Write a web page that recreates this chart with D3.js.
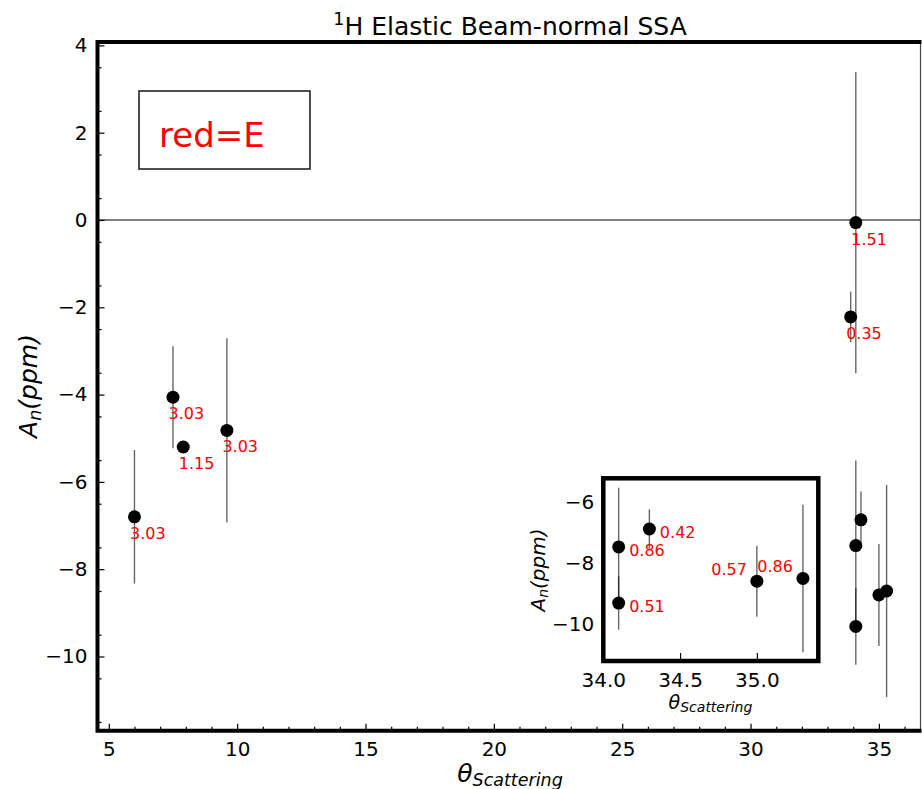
<!DOCTYPE html>
<html lang="en">
<head>
  <meta charset="UTF-8">
  <script src="https://cdn.jsdelivr.net/npm/d3@7"></script>
  <title>1H Elastic Beam-normal SSA</title>
  <style>
    body { margin: 0; background: #fff; }
    svg { display: block; font-family: "DejaVu Sans", sans-serif; }
  </style>
</head>
<body>
<div id="chart"></div>
<script>
  // Data
  var theta   = [6.0, 7.5, 7.9, 9.6, 34.1, 33.9, 34.1, 34.1, 34.3, 35.0, 35.3];
  var asym    = [-6.80, -4.06, -5.20, -4.82, -0.06, -2.22, -7.46, -9.31, -6.87, -8.59, -8.50];
  var asymErr = [1.53, 1.17, 0.0, 2.11, 3.45, 0.58, 1.95, 0.88, 0.65, 1.17, 2.43];
  var energy  = ["3.03", "3.03", "1.15", "3.03", "1.51", "0.35", "0.86", "0.51", "0.42", "0.57", "0.86"];

  var xTicks = [5, 10, 15, 20, 25, 30, 35];
  var yTicks = [-10, -8, -6, -4, -2, 0, 2, 4];
  var insetXTicks = [34.0, 34.5, 35.0];
  var insetYTicks = [-10, -8, -6];

  var data = theta.map(function(t, i) {
    return {x: t, y: asym[i], e: asymErr[i], label: energy[i]};
  });

  var width = 922, height = 789;

  var svg = d3.select("#chart").append("svg")
      .attr("width", width)
      .attr("height", height);

  // Main scales
  var x = d3.scaleLinear().domain([4.56, 36.62]).range([97.5, 920.5]);
  var y = d3.scaleLinear().domain([-11.7, 4.08]).range([730.7, 41.9]);

  // Inset scales
  var xi = d3.scaleLinear().domain([34.0, 35.4]).range([603.3, 818.3]);
  var yi = d3.scaleLinear().domain([-11.22, -5.2]).range([661, 478.3]);

  function inInset(d) {
    return d.x >= xi.domain()[0] && d.x <= xi.domain()[1] &&
           d.y >= yi.domain()[0] && d.y <= yi.domain()[1];
  }

  function styleAxis(g, size) {
    g.attr("font-family", null).attr("font-size", null);
    g.select(".domain").remove();
    g.selectAll("line").attr("stroke", "#000").attr("stroke-width", 1.2);
    g.selectAll("text").attr("font-size", size).attr("fill", "#000");
  }

  // Zero line
  svg.append("line")
    .attr("x1", x.range()[0]).attr("x2", x.range()[1])
    .attr("y1", y(0)).attr("y2", y(0))
    .attr("stroke", "#000").attr("stroke-width", 1.2);

  // Axes (ticks inward)
  var gx = svg.append("g").attr("transform", "translate(0," + y.range()[0] + ")")
    .call(d3.axisBottom(x).tickValues(xTicks).tickSizeInner(-7).tickSizeOuter(0).tickPadding(11));
  styleAxis(gx, 20);
  var gxm = svg.append("g").attr("transform", "translate(0," + y.range()[0] + ")")
    .call(d3.axisBottom(x).tickValues(d3.range(5, 37, 1).filter(function(v) { return v % 5; }))
      .tickFormat("").tickSizeInner(-4).tickSizeOuter(0));
  styleAxis(gxm, 20);

  var gy = svg.append("g").attr("transform", "translate(" + x.range()[0] + ",0)")
    .call(d3.axisLeft(y).tickValues(yTicks).tickFormat(d3.format("d"))
      .tickSizeInner(-7).tickSizeOuter(0).tickPadding(10));
  styleAxis(gy, 20);
  var gym = svg.append("g").attr("transform", "translate(" + x.range()[0] + ",0)")
    .call(d3.axisLeft(y).tickValues(d3.range(-11.5, 4.01, 1)).tickFormat("").tickSizeInner(-4).tickSizeOuter(0));
  styleAxis(gym, 20);

  // Spines
  var L = x.range()[0], R = x.range()[1], T = y.range()[1], B = y.range()[0];
  svg.append("line").attr("x1", R).attr("x2", R).attr("y1", T).attr("y2", B)
    .attr("stroke", "#444").attr("stroke-width", 1.2);
  svg.append("path")
    .attr("d", "M" + (R + 1) + "," + T + "H" + L + "V" + B + "H" + (R + 1))
    .attr("fill", "none").attr("stroke", "#000").attr("stroke-width", 4);

  // Error bars
  svg.append("g").selectAll("line")
    .data(data).enter().append("line")
      .attr("x1", function(d) { return x(d.x); })
      .attr("x2", function(d) { return x(d.x); })
      .attr("y1", function(d) { return y(d.y + d.e); })
      .attr("y2", function(d) { return y(d.y - d.e); })
      .attr("stroke", "#000").attr("stroke-opacity", 0.6).attr("stroke-width", 1.4);

  // Points
  svg.append("g").selectAll("circle")
    .data(data).enter().append("circle")
      .attr("cx", function(d) { return x(d.x); })
      .attr("cy", function(d) { return y(d.y); })
      .attr("r", 6.5)
      .attr("fill", "#000");

  // Energy labels (points covered by the inset are labelled there)
  svg.append("g").selectAll("text")
    .data(data.filter(function(d) { return !inInset(d); })).enter().append("text")
      .attr("x", function(d) { return x(d.x) - 4.5; })
      .attr("y", function(d) { return y(d.y) + 22; })
      .attr("font-size", 16)
      .attr("fill", "#ff0000")
      .text(function(d) { return d.label; });

  // Legend box
  svg.append("rect")
    .attr("x", 139).attr("y", 91).attr("width", 171).attr("height", 78)
    .attr("fill", "#fff").attr("stroke", "#222").attr("stroke-width", 1.6);
  svg.append("text")
    .attr("x", 159).attr("y", 146.5)
    .attr("font-size", 34).attr("fill", "#ff0000")
    .text("red=E");

  // Title
  var title = svg.append("text")
    .attr("x", 510).attr("y", 35)
    .attr("text-anchor", "middle").attr("font-size", 25);
  title.append("tspan").attr("font-size", 17.5).attr("dy", -10).text("1");
  title.append("tspan").attr("dy", 10).text("H Elastic Beam-normal SSA");

  // Axis labels
  var xl = svg.append("text")
    .attr("x", 510).attr("y", 781.5)
    .attr("text-anchor", "middle").attr("font-size", 25).attr("font-style", "italic");
  xl.append("tspan").text("\u03b8");
  xl.append("tspan").attr("font-size", 17.5).attr("dy", 4).text("Scattering");

  var yl = svg.append("text")
    .attr("transform", "translate(36.5,386) rotate(-90)")
    .attr("text-anchor", "middle").attr("font-size", 25).attr("font-style", "italic");
  yl.append("tspan").text("A");
  yl.append("tspan").attr("font-size", 17.5).attr("dy", 4).text("n");
  yl.append("tspan").attr("dy", -4).text("(ppm)");

  // Inset
  var inset = svg.append("g");
  var iL = xi.range()[0], iR = xi.range()[1], iT = yi.range()[1], iB = yi.range()[0];
  inset.append("rect")
    .attr("x", iL).attr("y", iT).attr("width", iR - iL).attr("height", iB - iT)
    .attr("fill", "#fff");

  var ix = inset.append("g").attr("transform", "translate(0," + iB + ")")
    .call(d3.axisBottom(xi).tickValues(insetXTicks).tickFormat(d3.format(".1f"))
      .tickSizeInner(-8).tickSizeOuter(0).tickPadding(12));
  styleAxis(ix, 20);
  var iy = inset.append("g").attr("transform", "translate(" + iL + ",0)")
    .call(d3.axisLeft(yi).tickValues(insetYTicks).tickFormat(d3.format("d"))
      .tickSizeInner(0).tickSizeOuter(0).tickPadding(9));
  styleAxis(iy, 20);

  var insetData = data.filter(inInset);

  inset.append("g").selectAll("line")
    .data(insetData).enter().append("line")
      .attr("x1", function(d) { return xi(d.x); })
      .attr("x2", function(d) { return xi(d.x); })
      .attr("y1", function(d) { return yi(Math.min(d.y + d.e, yi.domain()[1])); })
      .attr("y2", function(d) { return yi(Math.max(d.y - d.e, yi.domain()[0])); })
      .attr("stroke", "#000").attr("stroke-opacity", 0.6).attr("stroke-width", 1.4);

  inset.append("g").selectAll("circle")
    .data(insetData).enter().append("circle")
      .attr("cx", function(d) { return xi(d.x); })
      .attr("cy", function(d) { return yi(d.y); })
      .attr("r", 6.5)
      .attr("fill", "#000");

  // labels sit to the right, except near the right edge where they go left
  inset.append("g").selectAll("text")
    .data(insetData).enter().append("text")
      .attr("x", function(d) { return d.x >= 35 ? xi(d.x) - 10 : xi(d.x) + 10.5; })
      .attr("y", function(d) { return d.x >= 35 ? yi(d.y) - 6.5 : yi(d.y) + 8.7; })
      .attr("text-anchor", function(d) { return d.x >= 35 ? "end" : "start"; })
      .attr("font-size", 16)
      .attr("fill", "#ff0000")
      .text(function(d) { return d.label; });

  inset.append("rect")
    .attr("x", iL).attr("y", iT).attr("width", iR - iL).attr("height", iB - iT)
    .attr("fill", "none").attr("stroke", "#000").attr("stroke-width", 4.5);

  var ixl = inset.append("text")
    .attr("x", 710.5).attr("y", 709)
    .attr("text-anchor", "middle").attr("font-size", 19).attr("font-style", "italic");
  ixl.append("tspan").text("\u03b8");
  ixl.append("tspan").attr("font-size", 14).attr("dy", 3).text("Scattering");

  var iyl = inset.append("text")
    .attr("transform", "translate(544.5,570) rotate(-90)")
    .attr("text-anchor", "middle").attr("font-size", 20).attr("font-style", "italic");
  iyl.append("tspan").text("A");
  iyl.append("tspan").attr("font-size", 14).attr("dy", 3).text("n");
  iyl.append("tspan").attr("dy", -3).text("(ppm)");
</script>
</body>
</html>
